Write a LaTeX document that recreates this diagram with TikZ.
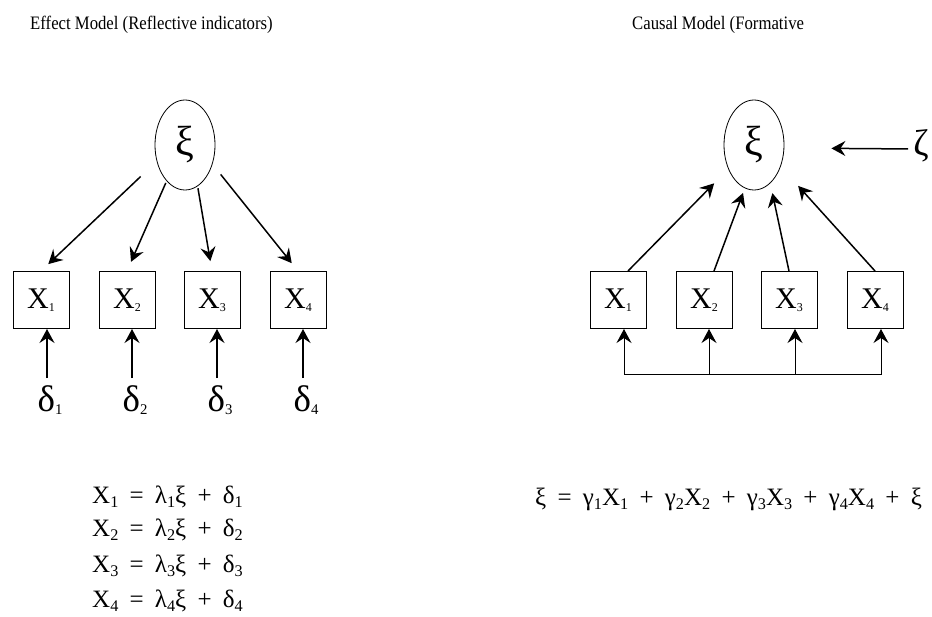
\documentclass[tikz,border=0pt]{standalone}
\usepackage{fontspec}
\setmainfont{Liberation Serif}
\usetikzlibrary{positioning,arrows.meta,shapes.geometric,calc}
\newcommand{\idx}[1]{\raisebox{-.35ex}{\scalebox{.65}{#1}}}
\newcommand{\bidx}[1]{\raisebox{-.2ex}{\scalebox{.4}{#1}}}
\newcommand{\eqfont}{\fontsize{25}{25}\selectfont\spaceskip=.45em\relax}

\begin{document}
\begin{tikzpicture}[x=1pt,y=-1pt,
  latent/.style={draw,line width=.8pt,ellipse,minimum width=60pt,minimum height=90pt,inner sep=0pt,font=\fontsize{42}{42}\selectfont},
  ind/.style={draw,line width=1pt,minimum width=56pt,minimum height=57pt,inner sep=0pt,font=\fontsize{30}{30}\selectfont},
  err/.style={inner sep=0pt,font=\fontsize{37}{37}\selectfont},
  arr/.style={-{Stealth[length=14pt,width=15pt,inset=5pt]},line width=1.5pt},
  title/.style={anchor=base west,inner sep=0pt,font=\fontsize{19}{19}\selectfont},
  eq/.style={anchor=base west,inner sep=0pt,font=\eqfont}]
        \useasboundingbox (0,0) rectangle (932,617);
        % effect model
        \node[title] (t1) at (30,30) {\scalebox{.88}[1]{Effect Model (Reflective indicators)}};
        \node[latent] (xiL) at (185,145) {ξ};
        \node[ind] (b1) at (41,300) {X\bidx{1}};
        \node[ind] (b2) at (127,300) {X\bidx{2}};
        \node[ind] (b3) at (212,300) {X\bidx{3}};
        \node[ind] (b4) at (298,300) {X\bidx{4}};
        \node[err] (d1) at (50,400) {δ\bidx{1}};
        \node[err] (d2) at (135,400) {δ\bidx{2}};
        \node[err] (d3) at (220,400) {δ\bidx{3}};
        \node[err] (d4) at (306,400) {δ\bidx{4}};
        \draw[arr,shorten <=22pt,shorten >=10pt] (xiL.210) -- (b1.north);
        \draw[arr,shorten <=2pt,shorten >=10pt] (xiL.243) -- (b2.north);
        \draw[arr,shorten <=2pt,shorten >=10pt] (xiL.287) -- (b3.north);
        \draw[arr,shorten <=13pt,shorten >=10pt] (xiL.325) -- (b4.north);
        \draw[arr,shorten <=7pt] ([xshift=-3pt]d1.north) -- ([xshift=-3pt]d1.north |- b1.south);
        \draw[arr,shorten <=7pt] ([xshift=-3pt]d2.north) -- ([xshift=-3pt]d2.north |- b2.south);
        \draw[arr,shorten <=7pt] ([xshift=-3pt]d3.north) -- ([xshift=-3pt]d3.north |- b3.south);
        \draw[arr,shorten <=7pt] ([xshift=-3pt]d4.north) -- ([xshift=-3pt]d4.north |- b4.south);
        \node[eq] (e1) at (92,503) {X\idx{1} = λ\idx{1}ξ + δ\idx{1}};
        \node[eq] (e2) at (92,536) {X\idx{2} = λ\idx{2}ξ + δ\idx{2}};
        \node[eq] (e3) at (92,572) {X\idx{3} = λ\idx{3}ξ + δ\idx{3}};
        \node[eq] (e4) at (92,607) {X\idx{4} = λ\idx{4}ξ + δ\idx{4}};
        % causal model
        \node[title] (t2) at (632,30) {\scalebox{.88}[1]{Causal Model (Formative}};
        \node[latent] (xiR) at (754,145) {ξ};
        \node[err] (zeta) at (921,146) {ζ};
        \node[ind] (c1) at (618,300) {X\bidx{1}};
        \node[ind] (c2) at (704,300) {X\bidx{2}};
        \node[ind] (c3) at (789,300) {X\bidx{3}};
        \node[ind] (c4) at (875,300) {X\bidx{4}};
        \draw[arr,shorten >=20pt] ([xshift=10pt]c1.north) -- (xiR.223);
        \draw[arr,shorten >=5pt] ([xshift=10pt]c2.north) -- (xiR.258);
        \draw[arr,shorten >=10pt] (c3.north) -- (xiR.293);
        \draw[arr,shorten >=26pt] (c4.north) -- (xiR.321);
        \draw[arr,shorten <=5pt,shorten >=47pt] ([yshift=-3pt]zeta.west) -- ([yshift=-3pt]xiR.east);
        \coordinate (j1) at (624,375);
        \coordinate (j2) at (709,375);
        \coordinate (j3) at (795,375);
        \coordinate (j4) at (881,375);
        \draw[line width=1pt] (j1) -- (j4);
        \draw[arr,line width=1pt] (j1) -- (j1 |- c1.south);
        \draw[arr,line width=1pt] (j2) -- (j2 |- c2.south);
        \draw[arr,line width=1pt] (j3) -- (j3 |- c3.south);
        \draw[arr,line width=1pt] (j4) -- (j4 |- c4.south);
        \node[eq] (e5) at (535,505) {ξ = γ\idx{1}X\idx{1} + γ\idx{2}X\idx{2} + γ\idx{3}X\idx{3} + γ\idx{4}X\idx{4} + ξ};
      \end{tikzpicture}
\end{document}
